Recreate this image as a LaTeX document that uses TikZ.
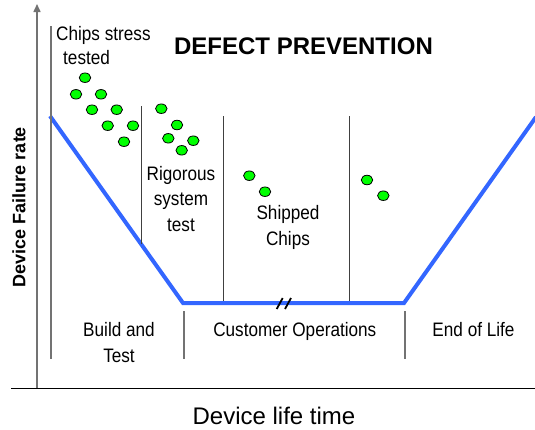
\documentclass[tikz,border=0pt]{standalone}
\usepackage{fontspec}
\setmainfont{Liberation Sans}
\newfontfamily\narrowfont[FakeStretch=0.88]{Liberation Sans}
\usetikzlibrary{arrows.meta,shapes.geometric}
\definecolor{curveblue}{HTML}{3366FF}
\definecolor{dotgreen}{HTML}{00FF00}
\tikzset{
  lbl/.style={font=\narrowfont\fontsize{19.5}{25.6}\selectfont, inner sep=0pt, align=center, anchor=base},
  dot/.style={ellipse, minimum width=11.5pt, minimum height=9.5pt, inner sep=0pt, fill=dotgreen, draw=black, line width=0.8pt},
  divider/.style={draw=black!75, line width=0.9pt},
  curve/.style={draw=curveblue, line width=4pt, line join=miter},
}
\begin{document}
\begin{tikzpicture}[x=1pt,y=-1pt]
\useasboundingbox (0,0) rectangle (535,429);
% axes
\coordinate (ytop) at (37,4);
\coordinate (ybot) at (37,389);
\coordinate (xl) at (11,388);
\coordinate (xr) at (535,388);
\draw[black!55, line width=1.5pt, -{Triangle[length=8pt,width=7pt]}] (ybot) -- (ytop);
\draw[black, line width=1pt] (xl) -- (xr);
% axis labels
\node[font=\bfseries\fontsize{18}{18}\selectfont, rotate=90, inner sep=0pt] (ylab) at (19,207) {Device Failure rate};
\node[font=\fontsize{24}{24}\selectfont, inner sep=0pt, anchor=base] (xlab) at (274,424) {Device life time};
% title
\node[font=\bfseries\fontsize{24}{24}\selectfont, inner sep=0pt, anchor=base] (title) at (303.5,54) {DEFECT PREVENTION};
% curve
\coordinate (c1) at (50,116);
\coordinate (c2) at (183,303);
\coordinate (c3) at (404,303);
\coordinate (c4) at (536,117);
\draw[curve] (c1) -- (c2) -- (c3) -- (c4);
% dividers
\coordinate (d1a) at (51,26);   \coordinate (d1b) at (51,359);
\coordinate (d2a) at (141,106); \coordinate (d2b) at (141,244);
\coordinate (d3a) at (223,116); \coordinate (d3b) at (223,301);
\coordinate (d4a) at (349,116); \coordinate (d4b) at (349,301);
\coordinate (d5a) at (184,311); \coordinate (d5b) at (184,359);
\coordinate (d6a) at (405,311); \coordinate (d6b) at (405,359);
\draw[draw=black!55, line width=1.2pt] (d1a) -- (d1b);
\draw[divider] (d2a) -- (d2b);
\draw[divider] (d3a) -- (d3b);
\draw[divider] (d4a) -- (d4b);
\draw[draw=black!55, line width=1.2pt] (d5a) -- (d5b);
\draw[draw=black!55, line width=1.2pt] (d6a) -- (d6b);
% break mark
\coordinate (b1a) at (276.7,309); \coordinate (b1b) at (282.7,298);
\coordinate (b2a) at (285,309);   \coordinate (b2b) at (291,298);
\draw[black, line width=1.8pt] (b1a) -- (b1b);
\draw[black, line width=1.8pt] (b2a) -- (b2b);
% dots
\node[dot] (p1) at (85,77.7) {};
\node[dot] (p2) at (76,94.3) {};
\node[dot] (p3) at (101,94.3) {};
\node[dot] (p4) at (92,109.7) {};
\node[dot] (p5) at (116.7,109.7) {};
\node[dot] (p6) at (107.7,125.7) {};
\node[dot] (p7) at (133,125.7) {};
\node[dot] (p8) at (124,141.7) {};
\node[dot] (q1) at (161.3,108.7) {};
\node[dot] (q2) at (177,125) {};
\node[dot] (q3) at (168.3,138.3) {};
\node[dot] (q4) at (193.3,140.7) {};
\node[dot] (q5) at (181.7,150.3) {};
\node[dot] (r1) at (249.3,175.7) {};
\node[dot] (r2) at (265,191.7) {};
\node[dot] (s1) at (367,180) {};
\node[dot] (s2) at (383.3,195.7) {};
% labels
\node[lbl, align=left, anchor=base west, font=\narrowfont\fontsize{19.5}{24}\selectfont] (chips) at (56,64) {Chips stress\\\hspace*{7pt}tested};
\node[lbl] (rig) at (181,231.5) {Rigorous\\system\\test};
\node[lbl] (ship) at (288,245) {Shipped\\Chips};
\node[lbl] (build) at (119,362.3) {Build and\\Test};
\node[lbl] (cust) at (294.8,336.7) {Customer Operations};
\node[lbl] (eol) at (473.5,336.7) {End of Life};
\end{tikzpicture}
\end{document}
